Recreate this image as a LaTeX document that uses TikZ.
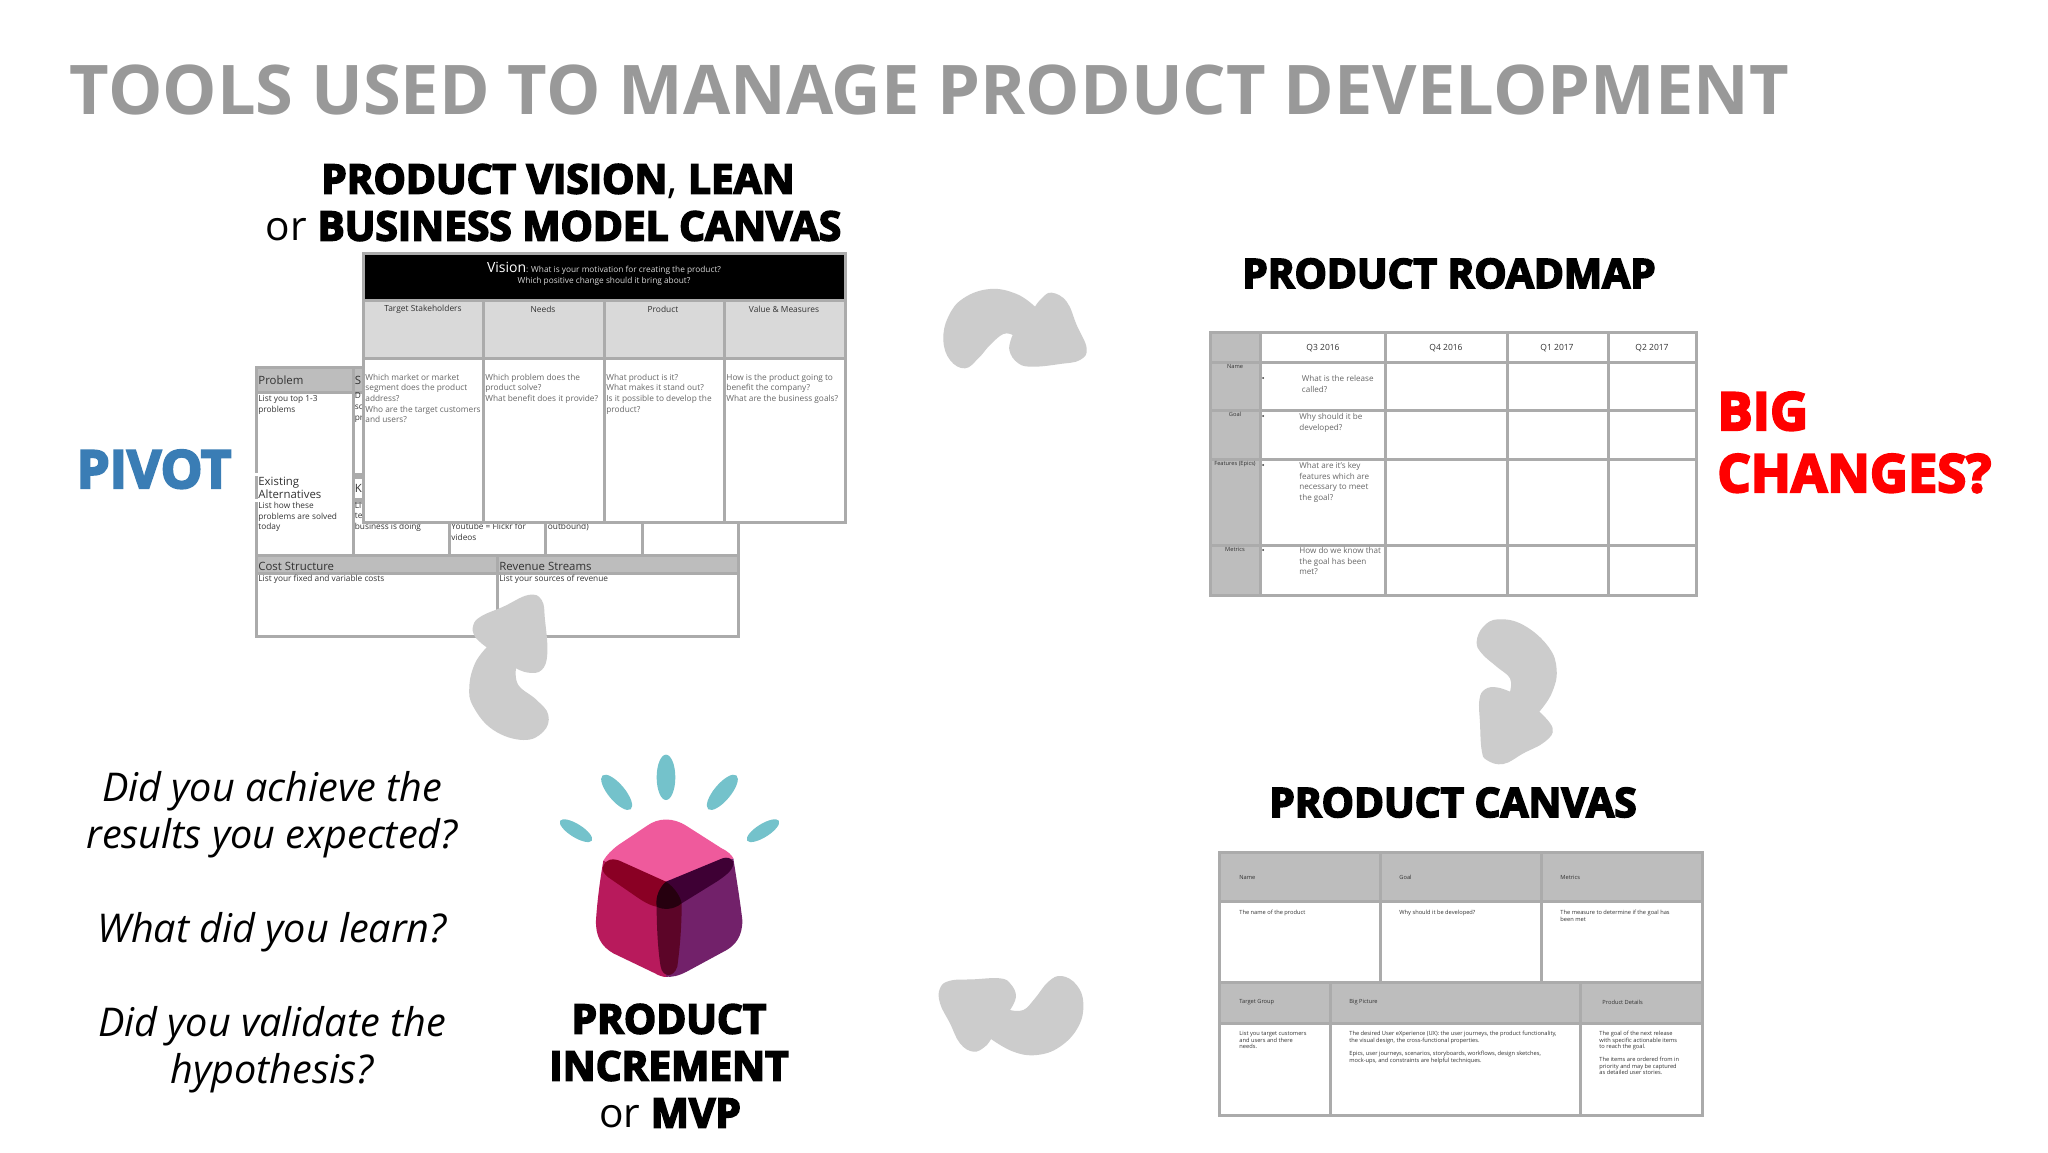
\documentclass[tikz,border=0pt]{standalone}
\usepackage{fontspec}
\setmainfont{Open Sans}
\newfontfamily\heavy[BoldFeatures={FakeBold=4.2}]{Open Sans}
\newcommand\pxf[2]{\fontsize{\fpeval{#1/2}}{\fpeval{#2/2}}\selectfont}
\definecolor{linegray}{HTML}{ABABAB}
\definecolor{headgray}{HTML}{BDBDBD}
\definecolor{lightgray2}{HTML}{D9D9D9}
\definecolor{arrowgray}{HTML}{CCCCCC}
\definecolor{titlegray}{HTML}{999999}
\definecolor{bodygray}{HTML}{666666}
\definecolor{ink}{HTML}{333333}
\definecolor{teal2}{HTML}{74C2CB}
\definecolor{pivotblue}{HTML}{3A7DB5}
\definecolor{cubeleft}{HTML}{B81A5C}
\definecolor{cuberight}{HTML}{72216A}
\definecolor{cubetop}{HTML}{EF5A9C}
\definecolor{bandleft}{HTML}{8A0024}
\definecolor{bandright}{HTML}{3E0034}
\definecolor{bandbottom}{HTML}{5C0528}
\definecolor{bandcentre}{HTML}{26000F}
\usetikzlibrary{shapes.geometric}
\tikzset{
  x=0.5pt,y=-0.5pt,
  ln/.style={line width=1.5pt,draw=linegray},
  txt/.style={inner sep=0pt,anchor=north west,align=left,text=ink},
  ctr/.style={inner sep=0pt,anchor=center,align=center,text=ink},
  lft/.style={inner sep=0pt,anchor=west,align=left,text=ink},
  bl/.style={inner sep=0pt,anchor=base},
  head/.style={bl,text=black,font=\heavy\bfseries\pxf{40.6}{40}},
  big/.style={head,font=\heavy\bfseries\pxf{52.5}{53}},
  ital/.style={bl,text=black,font=\itshape\pxf{39.6}{41}},
  tiny/.style={font=\pxf{5.7}{6.5}},
  small/.style={font=\pxf{8.3}{10.6}},
  mid/.style={font=\pxf{11.4}{12.9}},
  road/.style={txt,font=\pxf{8.1}{10.6},text=bodygray},
  chead/.style={ctr,font=\pxf{8.4}{9}},
  blob/.style={fill=arrowgray,draw=none}
}
\begin{document}
\begin{tikzpicture}
\useasboundingbox (0,0) rectangle (2048,1152);
\fill[white] (0,0) rectangle (2048,1152);

% title
\node[bl,text=titlegray,font=\bfseries\pxf{68.5}{68.5}] (title) at (929.5,114) {TOOLS USED TO MANAGE PRODUCT DEVELOPMENT};

% ===== back (lean) canvas
\fill[headgray] (256,367) rectangle (363,392);
\fill[headgray] (256,555) rectangle (738,573);
\draw[ln] (256,367) rectangle (738,636);
\draw[ln] (256,392) -- (363,392);
\draw[ln] (256,555) -- (738,555);
\draw[ln] (256,573) -- (738,573);
\draw[ln] (353,367) -- (353,555);
\draw[ln] (449,522) -- (449,555);
\draw[ln] (545,522) -- (545,555);
\draw[ln] (642,522) -- (642,555);
\draw[ln] (497,555) -- (497,636);
\draw[ln] (353,474) -- (363,474);
\draw[ln] (353,477) -- (363,477);
\draw[ln] (353,499) -- (363,499);
\draw[ln] (353,502) -- (363,502);
\fill[white] (254,473) rectangle (258,476);
\fill[white] (254,499) rectangle (258,502);
\node[lft,mid] (problem) at (258,380) {Problem};
\node[txt,small] (problemtxt) at (258,395) {List you top 1-3\\problems};
\node[txt,mid] (existing) at (258,477) {Existing\\Alternatives};
\node[txt,small] (existingtxt) at (258,502) {List how these\\problems are solved\\today};
\node[lft,mid] (sol) at (354.5,380) {S};
\node[txt,small] (soltxt) at (354.5,392.5) {D\\sc\\pr};
\node[lft,mid] (key) at (354.5,488) {K};
\node[txt,small] (keytxt) at (354.5,501.5) {Li\\te\\business is doing};
\node[txt,small] (yt) at (451,523) {Youtube = Flickr for\\videos};
\node[txt,small] (outb) at (547.5,523) {outbound)};
\node[lft,mid] (cost) at (258,566) {Cost Structure};
\node[lft,mid] (rev) at (499,566) {Revenue Streams};
\node[lft,small] (costtxt) at (258,579) {List your fixed and variable costs};
\node[lft,small] (revtxt) at (499,579) {List your sources of revenue};

% ===== vision canvas
\fill[white] (363,253) rectangle (845,522);
\fill[black] (363,253) rectangle (845,300);
\fill[lightgray2] (363,300) rectangle (845,358);
\draw[ln] (363,253) rectangle (845,522);
\draw[ln] (363,300) -- (845,300);
\draw[ln] (363,358) -- (845,358);
\draw[ln] (483,300) -- (483,522);
\draw[ln] (604,300) -- (604,522);
\draw[ln] (724,300) -- (724,522);
\node[ctr,text=lightgray2,font=\pxf{8.3}{11.5}] (vision) at (604,274) {{\color{white}\pxf{14}{11.5}Vision}: What is your motivation for creating the product?\\Which positive change should it bring about?};
\node[chead] (h1) at (423,309.5) {Target Stakeholders};
\node[chead] (h2) at (543,309.5) {Needs};
\node[chead] (h3) at (663,309.5) {Product};
\node[chead] (h4) at (784,309.5) {Value \& Measures};
\node[txt,small,text=bodygray] (b1) at (365,373.5) {Which market or market\\segment does the product\\address?\\Who are the target customers\\and users?};
\node[txt,small,text=bodygray] (b2) at (485,373.5) {Which problem does the\\product solve?\\What benefit does it provide?};
\node[txt,small,text=bodygray] (b3) at (606,373.5) {What product is it?\\What makes it stand out?\\Is it possible to develop the\\product?};
\node[txt,small,text=bodygray] (b4) at (726,373.5) {How is the product going to\\benefit the company?\\What are the business goals?};

% ===== roadmap
\fill[headgray] (1210,332) rectangle (1260,595);
\draw[ln] (1210,332) rectangle (1696,595);
\foreach \yy in {362,410,459,545} \draw[ln] (1210,\yy) -- (1696,\yy);
\foreach \xx in {1260,1385,1507,1608} \draw[ln] (\xx,332) -- (\xx,595);
\node[ctr,font=\pxf{8.5}{10}] (q1) at (1323,348) {Q3 2016};
\node[ctr,font=\pxf{8.5}{10}] (q2) at (1446,348) {Q4 2016};
\node[ctr,font=\pxf{8.5}{10}] (q3) at (1557,348) {Q1 2017};
\node[ctr,font=\pxf{8.5}{10}] (q4) at (1652,348) {Q2 2017};
\node[ctr,tiny] (r1) at (1235,366) {Name};
\node[ctr,tiny] (r2) at (1235,414) {Goal};
\node[ctr,tiny] (r3) at (1235,464) {Features (Epics)};
\node[ctr,tiny] (r4) at (1235,549) {Metrics};
\foreach \yy in {378,416,465,550}
  \fill[ink] (1263,\yy) circle (1);
\node[road] (t1) at (1301.5,375) {What is the release\\called?};
\node[road] (t2) at (1299,413) {Why should it be\\developed?};
\node[road] (t3) at (1299,462) {What are it's key\\features which are\\necessary to meet\\the goal?};
\node[road] (t4) at (1299,547) {How do we know that\\the goal has been\\met?};

% ===== product canvas
\fill[headgray] (1219,852) rectangle (1702,901);
\fill[headgray] (1219,982) rectangle (1702,1023);
\draw[ln] (1219,852) rectangle (1702,1115);
\draw[ln] (1219,901) -- (1702,901);
\draw[ln] (1219,982) -- (1702,982);
\draw[ln] (1219,1023) -- (1702,1023);
\draw[ln] (1380,852) -- (1380,982);
\draw[ln] (1541,852) -- (1541,982);
\draw[ln] (1330,982) -- (1330,1115);
\draw[ln] (1580,982) -- (1580,1115);
\node[lft,tiny] (c1) at (1239,877) {Name};
\node[lft,tiny] (c2) at (1399,877) {Goal};
\node[lft,tiny] (c3) at (1560,877) {Metrics};
\node[lft,tiny] (c4) at (1239,1002) {Target Group};
\node[lft,tiny] (c5) at (1349,1002) {Big Picture};
\node[lft,tiny] (c6) at (1602,1002) {Product Details};
\node[txt,tiny] (d1) at (1239,910) {The name of the product};
\node[txt,tiny] (d2) at (1399,910) {Why should it be developed?};
\node[txt,tiny] (d3) at (1560,910) {The measure to determine if the goal has\\been met};
\node[txt,tiny] (d4) at (1239,1031) {List you target customers\\and users and there\\needs.};
\node[txt,tiny] (d5) at (1349,1031) {The desired User eXperience (UX): the user journeys, the product functionality,\\the visual design, the cross-functional properties.};
\node[txt,tiny] (d6) at (1349,1051) {Epics, user journeys, scenarios, storyboards, workflows, design sketches,\\mock-ups, and constraints are helpful techniques.};
\node[txt,tiny] (d7) at (1599,1031) {The goal of the next release\\with specific actionable items\\to reach the goal.};
\node[txt,tiny] (d8) at (1599,1057) {The items are ordered from in\\priority and may be captured\\as detailed user stories.};

% ===== headings
\node[head] (hv1) at (558,193.5) {PRODUCT VISION{\normalfont,} LEAN};
\node[head] (hv2) at (553.5,240.5) {{\normalfont or }BUSINESS MODEL CANVAS};
\node[head] (hroad) at (1449,288) {PRODUCT ROADMAP};
\node[head] (hcan) at (1453,817) {PRODUCT CANVAS};
\node[head] (hinc1) at (669,1033.5) {PRODUCT};
\node[head] (hinc2) at (669,1080.5) {INCREMENT};
\node[head] (hinc3) at (670,1127.5) {{\normalfont or }MVP};
\node[big,text=pivotblue] (pivot) at (154,488) {PIVOT};
\node[big,text=red,anchor=base west] (bigw) at (1717,430) {BIG};
\node[big,text=red,anchor=base west] (chg) at (1717,492) {CHANGES?};

% ===== questions
\node[ital] (q1a) at (272,801) {Did you achieve the};
\node[ital] (q1b) at (272,848) {results you expected?};
\node[ital] (q2b) at (272,942) {What did you learn?};
\node[ital] (q3a) at (272,1036) {Did you validate the};
\node[ital] (q3b) at (272,1083) {hypothesis?};

% ===== logo
\begin{scope}[shift={(540,740)},x=0.5pt/3,y=-0.5pt/3]
  \fill[teal2] (378,112) ellipse (28 and 68);
  \fill[teal2,rotate around={40:(230,157)}] (230,157) ellipse (25 and 66);
  \fill[teal2,rotate around={-40:(547,157)}] (547,157) ellipse (25 and 66);
  \fill[teal2,rotate around={58:(108,272)}] (108,272) ellipse (20 and 56);
  \fill[teal2,rotate around={-58:(669,272)}] (669,272) ellipse (20 and 56);
  % faces
  \fill[cubeleft] (190,362) .. controls (180,420) and (172,480) .. (168,540) .. controls (166,590) and (185,620) .. (220,640) -- (345,700) .. controls (365,712) and (380,712) .. (385,710) -- (385,425) -- cycle;
  \fill[cuberight] (580,355) .. controls (590,420) and (600,480) .. (607,540) .. controls (608,590) and (585,615) .. (560,630) -- (440,695) .. controls (415,708) and (395,712) .. (378,710) -- (378,425) -- cycle;
  \fill[cubetop] (190,362) .. controls (200,345) and (215,330) .. (235,315) -- (320,258) .. controls (355,232) and (400,232) .. (440,258) -- (545,325) .. controls (565,335) and (575,345) .. (580,355) -- (378,425) -- cycle;
  % dark bands
  \fill[bandleft] (190,378) .. controls (195,358) and (220,352) .. (245,365) -- (378,425) -- (350,500) .. controls (320,495) and (290,470) .. (260,450) -- (205,412) .. controls (190,400) and (185,390) .. (190,378) -- cycle;
  \fill[bandright] (378,425) -- (540,358) .. controls (565,345) and (585,360) .. (580,375) .. controls (575,392) and (560,405) .. (530,425) -- (425,490) -- (370,470) -- cycle;
  \fill[bandbottom] (350,500) .. controls (350,570) and (355,640) .. (362,680) .. controls (368,712) and (400,715) .. (412,680) .. controls (420,620) and (425,560) .. (425,490) -- cycle;
  \fill[bandcentre] (378,425) .. controls (400,440) and (420,465) .. (425,490) .. controls (400,510) and (370,510) .. (350,500) .. controls (345,470) and (360,440) .. (378,425) -- cycle;
\end{scope}

% ===== blob arrows
\begin{scope}[shift={(920,270)},x=0.5pt/3,y=-0.5pt/3]
  \fill[blob] plot[smooth,tension=0.7] coordinates {(345,110) (290,72) (210,57) (130,85) (85,140) (70,210) (90,270) (135,295) (175,265) (210,225) (250,192) (278,195)}
   -- plot[smooth,tension=0.7] coordinates {(278,195) (268,240) (295,280) (340,290) (420,282) (480,270) (500,235) (470,165) (440,95) (395,68) (365,85) (345,110)} -- cycle;
\end{scope}
\begin{scope}[shift={(1460,610)},x=0.5pt/3,y=-0.5pt/3]
  \fill[blob] plot[smooth,tension=0.7] coordinates {(150,245) (150,205) (110,170) (65,130) (50,95) (70,50) (115,28) (190,45) (265,110) (290,180) (275,250) (238,305)}
   -- plot[smooth,tension=0.7] coordinates {(238,305) (278,355) (255,395) (190,430) (130,462) (80,450) (65,420) (60,340) (58,270) (75,238) (110,232) (150,245)} -- cycle;
\end{scope}
\begin{scope}[shift={(920,960)},x=0.5pt/3,y=-0.5pt/3]
  \fill[blob] plot[smooth,tension=0.7] coordinates {(270,150) (288,110) (272,72) (240,55) (160,58) (90,62) (60,85) (60,130) (90,190) (120,250) (160,275) (195,260) (213,237)}
   -- plot[smooth,tension=0.7] coordinates {(213,237) (280,275) (350,285) (420,260) (475,200) (490,130) (470,75) (425,48) (385,65) (345,115) (310,150) (270,150)} -- cycle;
\end{scope}
\begin{scope}[shift={(460,590)},x=0.5pt/3,y=-0.5pt/3]
  \fill[blob] plot[smooth,tension=0.7] coordinates {(80,172) (45,140) (40,105) (65,78) (130,50) (205,15) (245,30) (255,90) (262,190) (245,240) (205,248) (168,235)}
   -- plot[smooth,tension=0.7] coordinates {(168,235) (175,285) (230,330) (265,375) (250,425) (190,450) (100,420) (40,350) (28,290) (45,220) (80,172)} -- cycle;
\end{scope}
\end{tikzpicture}
\end{document}
